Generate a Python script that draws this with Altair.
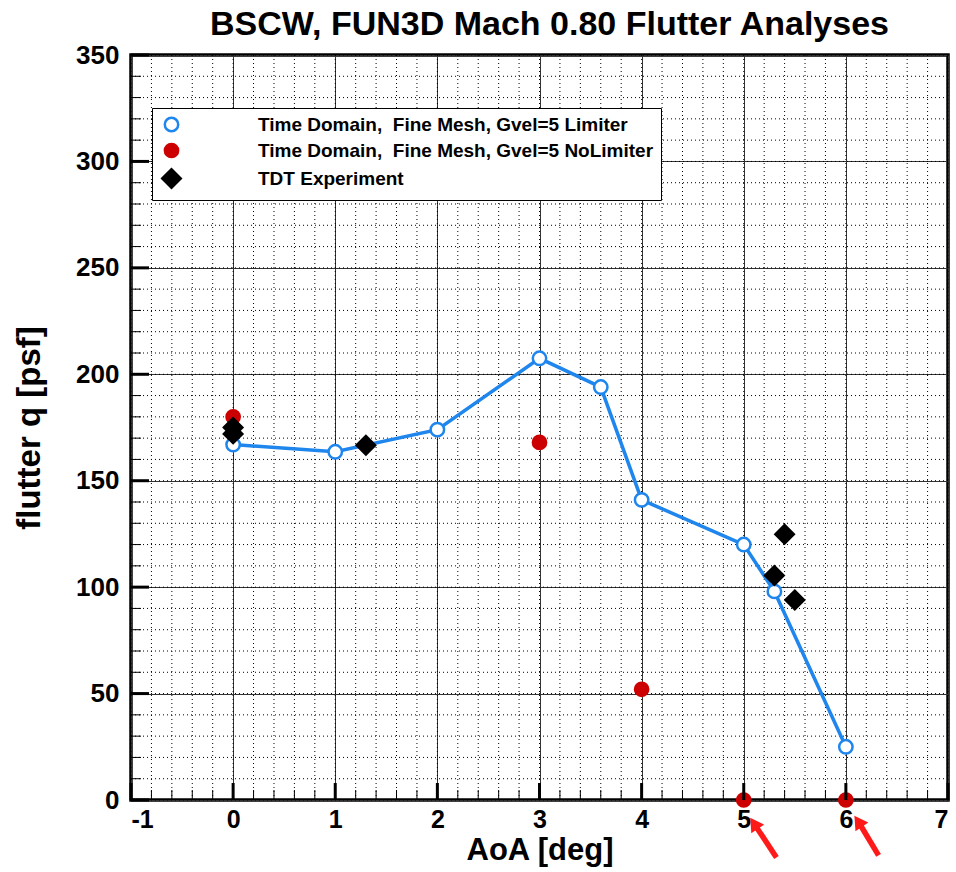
import altair as alt
import pandas as pd

# ---- data ----
lim_x = [0, 1, 2, 3, 3.6, 4, 5, 5.3, 6]
lim_y = [167, 163.6, 174, 207.5, 194, 141, 120, 98, 25]
nolim_x = [0, 3, 4, 5, 6]
nolim_y = [180, 168, 52, 0, 0]
tdt_x = [0, 0, 1.3, 5.3, 5.4, 5.5]
tdt_y = [175, 172, 166.7, 105.5, 124.8, 94]

series_names = [
    "Time Domain,\u00a0 Fine Mesh, Gvel=5 Limiter",
    "Time Domain,\u00a0 Fine Mesh, Gvel=5 NoLimiter",
    "TDT Experiment",
]

x_ticks_minor = [round(-1 + 0.2 * i, 1) for i in range(41)]
x_ticks_major = list(range(-1, 8))
y_ticks_minor = list(range(0, 351, 10))
y_ticks_major = list(range(0, 351, 50))

# annotation arrows (below axis at AoA 5 and 6)
arrow_head_x = [5.10, 6.12]
arrow_head_y = [-11, -10]
arrow_tail_x = [5.32, 6.32]
arrow_tail_y = [-27, -26]

W, H = 817, 745
BLUE = "#1f86ee"
RED = "#cc0000"
FONT = "Liberation Sans"

pts = pd.DataFrame({
    "x": lim_x + nolim_x + tdt_x,
    "y": lim_y + nolim_y + tdt_y,
    "series": [series_names[0]] * len(lim_x)
    + [series_names[1]] * len(nolim_x)
    + [series_names[2]] * len(tdt_x),
})
line_df = pd.DataFrame({"x": lim_x, "y": lim_y})
xt_min = pd.DataFrame({"v": x_ticks_minor})
xt_maj = pd.DataFrame({"v": x_ticks_major})
yt_min = pd.DataFrame({"v": y_ticks_minor})
yt_maj = pd.DataFrame({"v": y_ticks_major})
arrows = pd.DataFrame({"hx": arrow_head_x, "hy": arrow_head_y,
                       "tx": arrow_tail_x, "ty": arrow_tail_y})

xscale = alt.Scale(domain=[-1, 7], nice=False, zero=False)
yscale = alt.Scale(domain=[0, 350], nice=False, zero=False)

x_axis = alt.Axis(
    values=x_ticks_major,
    grid=True, gridColor="#333333", gridWidth=1,
    ticks=False, domain=False, labelOverlap=False,
    labelExpr="toString(round(datum.value))",
    labelFont=FONT, labelFontSize=25, labelFontWeight="bold", labelColor="black",
    labelPadding=7,
    title="AoA [deg]",
    titleFont=FONT, titleFontSize=31, titleFontWeight="bold", titleColor="black",
    titlePadding=3,
)
y_axis = alt.Axis(
    values=y_ticks_major,
    grid=True, gridColor="#333333", gridWidth=1,
    ticks=False, domain=False, labelOverlap=False,
    labelExpr="toString(round(datum.value))",
    labelFont=FONT, labelFontSize=26, labelFontWeight="bold", labelColor="black",
    labelPadding=12,
    title="flutter q [psf]",
    titleFont=FONT, titleFontSize=33, titleFontWeight="bold", titleColor="black",
    titlePadding=29,
)

# minor dotted grid
grid_xmin = alt.Chart(xt_min).mark_rule(color="black", strokeWidth=1, strokeDash=[1, 3]).encode(
    x=alt.X("v:Q", scale=xscale, axis=x_axis), y=alt.value(0), y2=alt.value(H))
grid_ymin = alt.Chart(yt_min).mark_rule(color="black", strokeWidth=1, strokeDash=[1, 3]).encode(
    y=alt.Y("v:Q", scale=yscale, axis=y_axis), x=alt.value(0), x2=alt.value(W))

line = alt.Chart(line_df).mark_line(color=BLUE, strokeWidth=3.5).encode(
    x=alt.X("x:Q", scale=xscale),
    y=alt.Y("y:Q", scale=yscale),
)

points = alt.Chart(pts).mark_point(strokeWidth=2.5, opacity=1, filled=False, clip=False).encode(
    x=alt.X("x:Q", scale=xscale),
    y=alt.Y("y:Q", scale=yscale),
    stroke=alt.Stroke("series:N", scale=alt.Scale(domain=series_names, range=[BLUE, RED, "black"]),
                      legend=alt.Legend(title=None)),
    fill=alt.Fill("series:N", scale=alt.Scale(domain=series_names, range=["white", RED, "black"]),
                  legend=alt.Legend(title=None)),
    shape=alt.Shape("series:N", scale=alt.Scale(domain=series_names, range=["circle", "circle", "diamond"]),
                    legend=alt.Legend(title=None)),
    size=alt.Size("series:N", scale=alt.Scale(type="ordinal", domain=series_names, range=[180, 175, 340]),
                  legend=alt.Legend(title=None)),
)

tick_xmaj = alt.Chart(xt_maj).mark_rule(color="black", strokeWidth=3).encode(
    x=alt.X("v:Q", scale=xscale), y=alt.value(H), y2=alt.value(H - 17))
tick_xmin = alt.Chart(xt_min).mark_rule(color="black", strokeWidth=1).encode(
    x=alt.X("v:Q", scale=xscale), y=alt.value(H), y2=alt.value(H - 10))
tick_ymaj = alt.Chart(yt_maj).mark_rule(color="black", strokeWidth=3).encode(
    y=alt.Y("v:Q", scale=yscale), x=alt.value(0), x2=alt.value(18))
tick_ymin = alt.Chart(yt_min).mark_rule(color="black", strokeWidth=1).encode(
    y=alt.Y("v:Q", scale=yscale), x=alt.value(0), x2=alt.value(10))

arrow_shaft = alt.Chart(arrows).mark_rule(color="#ff1a1a", strokeWidth=5.5, clip=False).encode(
    x=alt.X("tx:Q", scale=xscale), y=alt.Y("ty:Q", scale=yscale),
    x2="hx:Q", y2="hy:Q")
arrow_head = alt.Chart(arrows).mark_point(shape="triangle-up", angle=326, size=240, filled=True,
                                          color="#ff1a1a", opacity=1, clip=False).encode(
    x=alt.X("hx:Q", scale=xscale), y=alt.Y("hy:Q", scale=yscale))

chart = alt.layer(
    grid_xmin, grid_ymin, line, points, tick_xmin, tick_xmaj, tick_ymin, tick_ymaj,
    arrow_shaft, arrow_head
).properties(
    width=W, height=H,
    title=alt.TitleParams("BSCW, FUN3D Mach 0.80 Flutter Analyses", font=FONT, fontSize=34,
                          fontWeight="bold", color="black", offset=0, dx=10),
    autosize=alt.AutoSizeParams(type="none"),
    padding={"left": 131, "top": 55, "right": 8, "bottom": 72},
).configure_view(
    stroke="black", strokeWidth=3.5
).configure_axis(
    labelOverlap=False
).configure_legend(
    orient="none", legendX=21, legendY=53,
    strokeColor="black", fillColor="white", padding=7,
    labelFont=FONT, labelFontSize=19, labelFontWeight="bold", labelColor="black",
    labelOffset=76, symbolOffset=2, rowPadding=1, symbolStrokeWidth=2.5,
    labelLimit=700,
)

chart.save("out.html", embed_options={"renderer": "svg", "actions": False})
